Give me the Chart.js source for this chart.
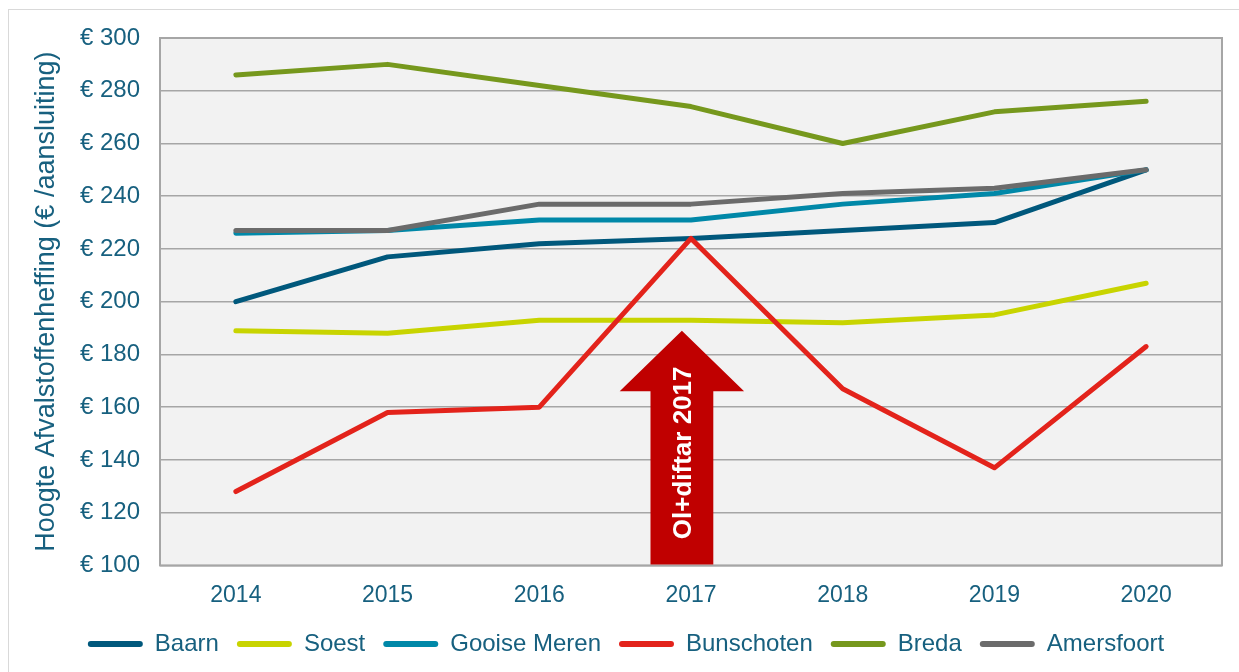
<!DOCTYPE html>
<html>
<head>
<meta charset="utf-8">
<script src="https://cdn.jsdelivr.net/npm/chart.js@4"></script>
<style>
  html, body { margin: 0; padding: 0; background: #fff; }
  #wrap { position: relative; width: 1239px; height: 672px; overflow: hidden; }
  #frame { position: absolute; left: 8px; top: 9px; width: 1240px; height: 670px; border: 1px solid #d9d9d9; }
  canvas { position: absolute; left: 0; top: 0; }
</style>
</head>
<body>
<div id="wrap">
  <div id="frame"></div>
  <canvas id="chart" width="1239" height="672"></canvas>
</div>
<script>
const years = ["2014", "2015", "2016", "2017", "2018", "2019", "2020"];
const baarn = [200, 217, 222, 224, 227, 230, 250];
const soest = [189, 188, 193, 193, 192, 195, 207];
const gooiseMeren = [226, 227, 231, 231, 237, 241, 250];
const bunschoten = [128, 158, 160, 224, 167, 137, 183];
const breda = [286, 290, 282, 274, 260, 272, 276];
const amersfoort = [227, 227, 237, 237, 241, 243, 250];
const yTicks = [100, 120, 140, 160, 180, 200, 220, 240, 260, 280, 300];

// arrow annotation (in data terms)
const arrowYear = "2017";
const arrowTip = 189;
const arrowHeadBase = 166;
const arrowText = "Ol+diftar 2017";

const textColor = "#17607f";
const gridColor = "#a6a6a6";

Chart.defaults.font.family = "'Liberation Sans', Arial, sans-serif";
Chart.defaults.color = textColor;

const series = [
  { label: "Baarn", data: baarn, color: "#00587c" },
  { label: "Soest", data: soest, color: "#c8d400" },
  { label: "Gooise Meren", data: gooiseMeren, color: "#0088a8" },
  { label: "Bunschoten", data: bunschoten, color: "#e3231b" },
  { label: "Breda", data: breda, color: "#76981d" },
  { label: "Amersfoort", data: amersfoort, color: "#6b6b6b" },
];

const plotBackground = {
  id: "plotBackground",
  beforeDraw(chart) {
    const { ctx, chartArea: a } = chart;
    ctx.save();
    ctx.fillStyle = "#f2f2f2";
    ctx.fillRect(a.left, a.top, a.right - a.left, a.bottom - a.top);
    ctx.restore();
  },
  beforeDatasetsDraw(chart) {
    const { ctx, chartArea: a, scales } = chart;
    ctx.save();
    ctx.strokeStyle = gridColor;
    ctx.lineWidth = 2;
    ctx.strokeRect(a.left, a.top, a.right - a.left, a.bottom - a.top);

    // arrow
    const x = scales.x;
    const y = scales.y;
    const idx = years.indexOf(arrowYear);
    const band = (x.getPixelForValue(1) - x.getPixelForValue(0));
    const cx = x.getPixelForValue(idx) - band * 0.06;
    const shaft = band * 0.207;
    const head = band * 0.41;
    const tipY = y.getPixelForValue(arrowTip);
    const baseY = y.getPixelForValue(arrowHeadBase);
    const bottom = a.bottom - 1;
    ctx.fillStyle = "#c00000";
    ctx.beginPath();
    ctx.moveTo(cx, tipY);
    ctx.lineTo(cx + head, baseY);
    ctx.lineTo(cx + shaft, baseY);
    ctx.lineTo(cx + shaft, bottom);
    ctx.lineTo(cx - shaft, bottom);
    ctx.lineTo(cx - shaft, baseY);
    ctx.lineTo(cx - head, baseY);
    ctx.closePath();
    ctx.fill();

    ctx.translate(cx + 2, (baseY + bottom) / 2 - 25);
    ctx.rotate(-Math.PI / 2);
    ctx.fillStyle = "#ffffff";
    ctx.font = "bold 26px 'Liberation Sans', Arial, sans-serif";
    ctx.textAlign = "center";
    ctx.textBaseline = "middle";
    ctx.fillText(arrowText, 0, 0);
    ctx.restore();
  },
};

new Chart(document.getElementById("chart"), {
  type: "line",
  data: {
    labels: years,
    datasets: series.map((s, i) => ({
      label: s.label,
      data: s.data,
      borderColor: s.color,
      backgroundColor: s.color,
      borderWidth: 5,
      borderCapStyle: "round",
      borderJoinStyle: "round",
      pointRadius: 0,
      tension: 0,
      order: series.length - i,
    })),
  },
  options: {
    responsive: false,
    animation: false,
    layout: { padding: { top: 38, right: 17, left: 30, bottom: 6 } },
    plugins: {
      legend: {
        position: "bottom",
        labels: {
          boxWidth: 55,
          boxHeight: 6,
          useBorderRadius: true,
          borderRadius: 3,
          padding: 18,
          font: { size: 24 },
          color: textColor,
          generateLabels: (chart) =>
            Chart.defaults.plugins.legend.labels.generateLabels(chart).map((l) => ({ ...l, lineWidth: 0 })),
          sort: (a, b) => a.datasetIndex - b.datasetIndex,
        },
      },
      tooltip: { enabled: false },
    },
    scales: {
      x: {
        offset: true,
        grid: { display: false },
        border: { display: false },
        afterFit: (s) => { s.height = s.height - 3; },
        ticks: { font: { size: 23 }, color: textColor, padding: 8 },
      },
      y: {
        min: 100,
        max: 300,
        afterBuildTicks: (s) => { s.ticks = yTicks.map((v) => ({ value: v })); },
        afterFit: (s) => { s.width = 130; },
        grid: { color: gridColor, lineWidth: 1.5, drawTicks: false },
        border: { display: false },
        ticks: {
          font: { size: 24 },
          color: textColor,
          padding: 20,
          callback: (v) => "€ " + v,
        },
        title: {
          display: true,
          text: "Hoogte Afvalstoffenheffing (€ /aansluiting)",
          font: { size: 27 },
          color: textColor,
          padding: { top: 0, bottom: 0 },
        },
      },
    },
  },
  plugins: [plotBackground],
});
</script>
</body>
</html>
